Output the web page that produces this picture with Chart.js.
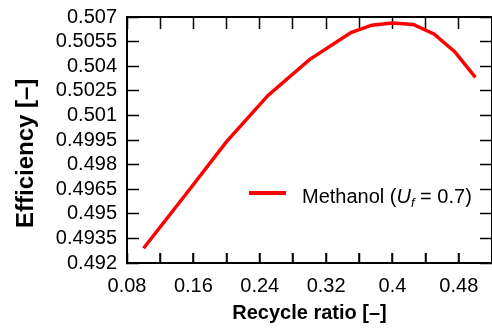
<!DOCTYPE html>
<html>
<head>
<meta charset="utf-8">
<title>Efficiency vs recycle ratio</title>
<script src="https://cdn.jsdelivr.net/npm/chart.js@4/dist/chart.umd.min.js"></script>
<style>
  html, body { margin: 0; padding: 0; background: #fff; overflow: hidden; }
  #wrap { position: relative; width: 492px; height: 333px; overflow: hidden; }
  canvas { display: block; }
</style>
</head>
<body>
<div id="wrap"><canvas id="chart" width="492" height="333" style="width:492px;height:333px"></canvas></div>
<script>
// Recycle ratio sweep and resulting system efficiency (methanol, Uf = 0.7)
const recycleRatio = [0.1, 0.15, 0.2, 0.25, 0.3, 0.35, 0.375, 0.4, 0.425, 0.45, 0.475, 0.5];
const efficiency = [0.4929, 0.49613, 0.4994, 0.50222, 0.5044, 0.50605, 0.5065, 0.50664, 0.50655, 0.50597, 0.50488, 0.50332];

const seriesName = 'Methanol';
const fuelUtilization = '0.7';

const xTicks = [0.08, 0.12, 0.16, 0.2, 0.24, 0.28, 0.32, 0.36, 0.4, 0.44, 0.48, 0.52];
const xTickLabels = ['0.08', '', '0.16', '', '0.24', '', '0.32', '', '0.4', '', '0.48', ''];
const yTicks = [0.492, 0.4935, 0.495, 0.4965, 0.498, 0.4995, 0.501, 0.5025, 0.504, 0.5055, 0.507];
const yTickLabels = ['0.492', '0.4935', '0.495', '0.4965', '0.498', '0.4995', '0.501', '0.5025', '0.504', '0.5055', '0.507'];

const xTitle = 'Recycle ratio [\u2013]';
const yTitle = 'Efficiency [\u2013]';

const FONT = "'Liberation Sans', Arial, Helvetica, sans-serif";
const LINE_COLOR = '#ff0000';

// Frame side: solid border plus short inward tick marks (negative tick length)
function frameGrid(len) {
  return {
    display: true,
    drawOnChartArea: false,
    drawTicks: true,
    tickLength: -len,
    tickWidth: 1.5,
    tickColor: '#000'
  };
}
const frameBorder = { display: true, color: '#000', width: 2 };

// Bottom edge of the frame repainted on top, with its inward ticks
const bottomEdge = {
  id: 'bottomEdge',
  afterDraw(chart) {
    const { ctx, chartArea: a, scales: { x } } = chart;
    const yb = Math.round(a.bottom);
    ctx.save();
    ctx.fillStyle = '#000';
    ctx.fillRect(a.left - 1, yb - 1, a.right - a.left + 2, 2);
    xTicks.forEach(v => {
      const px = x.getPixelForValue(v);
      if (px <= a.left + 2 || px >= a.right - 2) return;
      ctx.fillRect(Math.round(px) - 0.75, yb - 10, 1.5, 10);
    });
    ctx.restore();
  }
};

// Legend entry with italic U and subscript f
const richLegend = {
  id: 'richLegend',
  afterDraw(chart) {
    const { ctx, chartArea: a } = chart;
    const ds = chart.data.datasets[0];
    const lx = a.left + 122, ly = a.top + 176;
    ctx.save();
    ctx.strokeStyle = ds.borderColor;
    ctx.lineWidth = 4;
    ctx.beginPath();
    ctx.moveTo(lx, ly);
    ctx.lineTo(lx + 37, ly);
    ctx.stroke();

    const parts = [
      { text: seriesName + ' (', font: `20px ${FONT}`, dy: 0 },
      { text: 'U', font: `italic 20px ${FONT}`, dy: 0 },
      { text: 'f', font: `italic 13px ${FONT}`, dy: 4 },
      { text: ' = ' + fuelUtilization + ')', font: `20px ${FONT}`, dy: 0 }
    ];
    let tx = lx + 53;
    const base = ly + 9.5;
    ctx.fillStyle = '#000';
    ctx.textBaseline = 'alphabetic';
    ctx.textAlign = 'left';
    parts.forEach(p => {
      ctx.font = p.font;
      ctx.fillText(p.text, tx, base + p.dy);
      tx += ctx.measureText(p.text).width;
    });
    ctx.restore();
  }
};

const setXTicks = s => { s.ticks = xTicks.map(v => ({ value: v })); };
const setYTicks = s => { s.ticks = yTicks.map(v => ({ value: v })); };

new Chart(document.getElementById('chart'), {
  type: 'line',
  data: {
    datasets: [{
      label: `${seriesName} (Uf = ${fuelUtilization})`,
      data: recycleRatio.map((r, i) => ({ x: r, y: efficiency[i] })),
      borderColor: LINE_COLOR,
      backgroundColor: LINE_COLOR,
      borderWidth: 3.5,
      pointRadius: 0,
      tension: 0,
      fill: false,
      xAxisID: 'x',
      yAxisID: 'y'
    }]
  },
  options: {
    responsive: false,
    animation: false,
    events: [],
    // right edge of the frame (0.52) sits just past the canvas edge
    layout: { padding: { left: 0, right: -6.6, top: 17, bottom: 0 } },
    plugins: {
      legend: { display: false },
      tooltip: { enabled: false }
    },
    scales: {
      x: {
        type: 'linear',
        position: 'bottom',
        min: 0.08,
        max: 0.52,
        afterBuildTicks: setXTicks,
        afterFit: s => { s.height = 70; s.paddingLeft = 0; s.paddingRight = 0; },
        grid: frameGrid(10),
        border: frameBorder,
        ticks: {
          autoSkip: false,
          maxRotation: 0,
          padding: 21,
          color: '#000',
          font: { family: FONT, size: 20 },
          callback: (v, i) => xTickLabels[i]
        },
        title: {
          display: true,
          text: xTitle,
          color: '#000',
          font: { family: FONT, size: 20, weight: 'bold' },
          padding: { top: 0, bottom: 8 }
        }
      },
      xTop: {
        type: 'linear',
        position: 'top',
        min: 0.08,
        max: 0.52,
        afterBuildTicks: setXTicks,
        afterFit: s => { s.height = 0; s.paddingLeft = 0; s.paddingRight = 0; },
        grid: frameGrid(12),
        border: frameBorder,
        ticks: { display: false }
      },
      y: {
        type: 'linear',
        position: 'left',
        min: 0.492,
        max: 0.507,
        afterBuildTicks: setYTicks,
        afterFit: s => { s.width = 127; s.paddingTop = 0; s.paddingBottom = 0; },
        grid: frameGrid(12),
        border: frameBorder,
        ticks: {
          autoSkip: false,
          padding: 22,
          color: '#000',
          font: { family: FONT, size: 20 },
          callback: (v, i) => yTickLabels[i]
        },
        title: {
          display: true,
          text: yTitle + '    ',
          color: '#000',
          font: { family: FONT, size: 24, weight: 'bold' },
          padding: { top: 12, bottom: 0 }
        }
      },
      yRight: {
        type: 'linear',
        position: 'right',
        min: 0.492,
        max: 0.507,
        afterBuildTicks: setYTicks,
        afterFit: s => { s.width = 0; s.paddingTop = 0; s.paddingBottom = 0; },
        grid: frameGrid(12),
        border: frameBorder,
        ticks: { display: false }
      }
    }
  },
  plugins: [bottomEdge, richLegend]
});
</script>
</body>
</html>
